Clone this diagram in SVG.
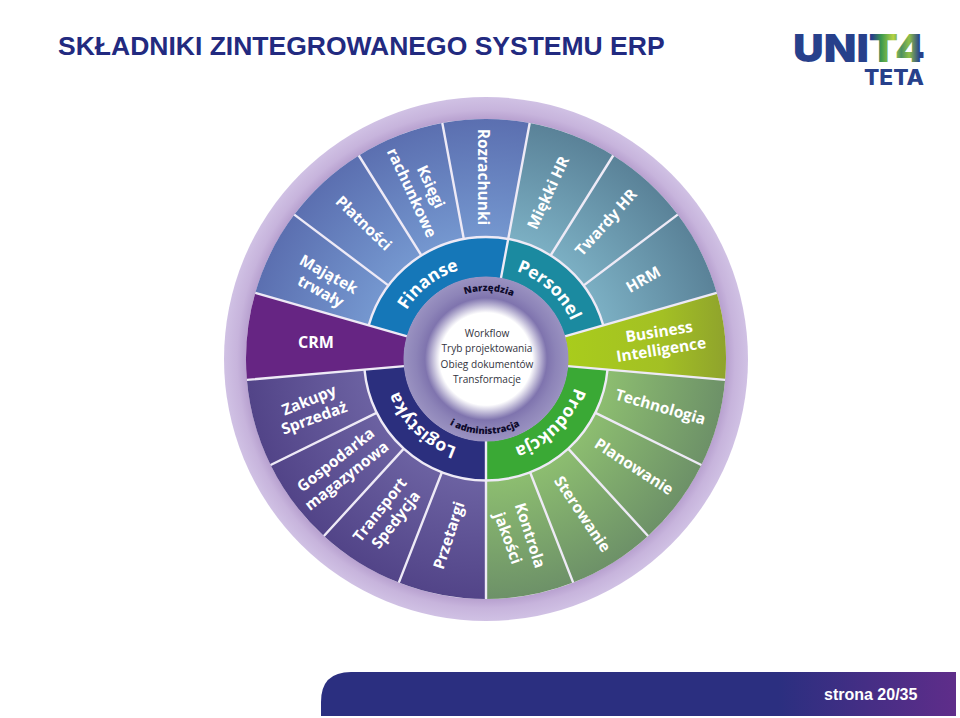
<svg xmlns="http://www.w3.org/2000/svg" width="960" height="718" viewBox="0 0 960 718">
<style>
.spoke{stroke:#eeeaf6;stroke-width:2.4;fill:none;stroke-linecap:butt}
.lb{font-family:"Open Sans","Noto Sans",sans-serif;font-weight:700;fill:#fff;text-anchor:middle;font-size:15.5px}
.rg{font-family:"Open Sans","Noto Sans",sans-serif;font-weight:700;fill:#fff;text-anchor:middle;font-size:17.5px}
.tl{font-family:"Open Sans","Noto Sans",sans-serif;font-weight:800;fill:#0e0b2c;text-anchor:middle;font-size:9.5px}
.ct{font-family:"Open Sans","Noto Sans",sans-serif;fill:#333340;text-anchor:middle;font-size:10.1px}
</style>
<defs>
<radialGradient id="gOuter" gradientUnits="userSpaceOnUse" cx="486" cy="359" r="262"><stop offset=".91" stop-color="#b59dcd"/><stop offset=".95" stop-color="#c7b4dc"/><stop offset="1" stop-color="#d0c1e4"/></radialGradient>
<radialGradient id="gBlue" gradientUnits="userSpaceOnUse" cx="486" cy="359" r="240"><stop offset=".5" stop-color="#7598d0"/><stop offset="1" stop-color="#5b6fb0"/></radialGradient>
<radialGradient id="gTeal" gradientUnits="userSpaceOnUse" cx="486" cy="359" r="240"><stop offset=".5" stop-color="#7cb0c4"/><stop offset="1" stop-color="#5a8298"/></radialGradient>
<radialGradient id="gGreen" gradientUnits="userSpaceOnUse" cx="486" cy="359" r="240"><stop offset=".5" stop-color="#8dbe70"/><stop offset="1" stop-color="#6d9168"/></radialGradient>
<radialGradient id="gViolet" gradientUnits="userSpaceOnUse" cx="486" cy="359" r="240"><stop offset=".5" stop-color="#6c62a2"/><stop offset="1" stop-color="#524488"/></radialGradient>
<linearGradient id="gBI" gradientUnits="userSpaceOnUse" x1="566" y1="0" x2="726" y2="0"><stop offset="0" stop-color="#a9cc1c"/><stop offset=".6" stop-color="#a3c024"/><stop offset="1" stop-color="#8fa32c"/></linearGradient>
<radialGradient id="gHub" gradientUnits="userSpaceOnUse" cx="486" cy="359" r="82.5"><stop offset=".56" stop-color="#fff"/><stop offset=".74" stop-color="#7f74ae"/><stop offset=".85" stop-color="#8d84b8"/><stop offset="1" stop-color="#9a92c1"/></radialGradient>
<linearGradient id="gFoot" gradientUnits="userSpaceOnUse" x1="321" y1="0" x2="956" y2="0"><stop offset="0" stop-color="#2b2f80"/><stop offset=".72" stop-color="#2b2f80"/><stop offset="1" stop-color="#5f2d8a"/></linearGradient>
<linearGradient id="gLogo" gradientUnits="userSpaceOnUse" x1="793" y1="0" x2="925" y2="0"><stop offset="0" stop-color="#27408b"/><stop offset=".6" stop-color="#27408b"/><stop offset=".67" stop-color="#3d9a4e"/><stop offset=".76" stop-color="#b5d344"/><stop offset=".82" stop-color="#4c8f62"/><stop offset=".88" stop-color="#8fbf48"/><stop offset=".96" stop-color="#27408b"/></linearGradient>
<path id="aFin" d="M393.6 369.5A93 93 0 0 1 523.1 273.7"/>
<path id="aPer" d="M458 270.3A93 93 0 0 1 576.8 379.1"/>
<path id="aPro" d="M575.8 334.9A93 93 0 0 1 461.9 448.8"/>
<path id="aLog" d="M511.6 448.4A93 93 0 0 1 395.8 336.5"/>
<path id="aNar" d="M428.6 322.5A68 68 0 0 1 546.3 327.6"/>
<path id="aAdm" d="M420.4 395.4A75 75 0 0 0 550.3 397.6"/>
</defs>

<rect width="960" height="718" fill="#fff"/>

<g id="title"><text x="58" y="55" font-family="'Liberation Sans',Arial,sans-serif" font-weight="700" font-size="26.5" fill="#222a80">SKŁADNIKI ZINTEGROWANEGO SYSTEMU ERP</text></g>

<g id="logo">
<text x="793" y="62" font-family="Inter,'Liberation Sans',sans-serif" font-weight="900" font-size="39" fill="url(#gLogo)" textLength="132" lengthAdjust="spacingAndGlyphs">UNIT4</text>
<text x="864" y="85" font-family="Inter,'Liberation Sans',sans-serif" font-weight="800" font-size="21" fill="#27408b" textLength="60" lengthAdjust="spacingAndGlyphs">TETA</text>
</g>

<g id="ring"><circle cx="486" cy="359" r="262" fill="url(#gOuter)"/><circle cx="486" cy="359" r="240" fill="#fff"/></g>

<g id="n-majatek"><path d="M255.3 292.8A240 240 0 0 1 294.3 214.6L388.6 285.6A122 122 0 0 0 368.7 325.4Z" fill="url(#gBlue)"/><text class="lb" transform="translate(326 279) rotate(29)">Majątek</text><text class="lb" transform="translate(318 296) rotate(29)">trwały</text></g>
<g id="n-platnosci"><path d="M294.3 214.6A240 240 0 0 1 358.8 155.5L421.4 255.5A122 122 0 0 0 388.6 285.6Z" fill="url(#gBlue)"/><text class="lb" transform="translate(360 227) rotate(44)">Płatności</text></g>
<g id="n-ksiegi"><path d="M358.8 155.5A240 240 0 0 1 442.3 123L463.8 239A122 122 0 0 0 421.4 255.5Z" fill="url(#gBlue)"/><text class="lb" transform="translate(426 189) rotate(65)">Księgi</text><text class="lb" transform="translate(407 195) rotate(65)">rachunkowe</text></g>
<g id="n-rozrachunki"><path d="M442.3 123A240 240 0 0 1 529.7 123L508.2 239A122 122 0 0 0 463.8 239Z" fill="url(#gBlue)"/><text class="lb" transform="translate(478 177) rotate(90)">Rozrachunki</text></g>
<g id="n-miekki"><path d="M529.7 123A240 240 0 0 1 613.2 155.5L550.6 255.5A122 122 0 0 0 508.2 239Z" fill="url(#gTeal)"/><text class="lb" transform="translate(553 195) rotate(-65)">Miękki HR</text></g>
<g id="n-twardy"><path d="M613.2 155.5A240 240 0 0 1 677.7 214.6L583.4 285.6A122 122 0 0 0 550.6 255.5Z" fill="url(#gTeal)"/><text class="lb" transform="translate(610 226) rotate(-48)">Twardy HR</text></g>
<g id="n-hrm"><path d="M677.7 214.6A240 240 0 0 1 716.7 292.8L603.3 325.4A122 122 0 0 0 583.4 285.6Z" fill="url(#gTeal)"/><text class="lb" transform="translate(646 284) rotate(-30)">HRM</text></g>
<g id="n-bi"><path d="M716.7 292.8A240 240 0 0 1 725.1 379.9L567.7 366.1A82 82 0 0 0 564.8 336.4Z" fill="url(#gBI)"/><text class="lb" transform="translate(660 337) rotate(-9)">Business</text><text class="lb" transform="translate(662 355) rotate(-9)">Intelligence</text></g>
<g id="n-technologia"><path d="M725.1 379.9A240 240 0 0 1 701.4 465L595.5 412.9A122 122 0 0 0 607.5 369.6Z" fill="url(#gGreen)"/><text class="lb" transform="translate(659 412) rotate(16)">Technologia</text></g>
<g id="n-planowanie"><path d="M701.4 465A240 240 0 0 1 648.1 536L568.4 448.9A122 122 0 0 0 595.5 412.9Z" fill="url(#gGreen)"/><text class="lb" transform="translate(631 471) rotate(33)">Planowanie</text></g>
<g id="n-sterowanie"><path d="M648.1 536A240 240 0 0 1 573.2 582.6L530.3 472.7A122 122 0 0 0 568.4 448.9Z" fill="url(#gGreen)"/><text class="lb" transform="translate(578 517) rotate(56)">Sterowanie</text></g>
<g id="n-kontrola"><path d="M573.2 582.6A240 240 0 0 1 486 599L486 481A122 122 0 0 0 530.3 472.7Z" fill="url(#gGreen)"/><text class="lb" transform="translate(525 537) rotate(72)">Kontrola</text><text class="lb" transform="translate(503 540) rotate(70)">jakości</text></g>
<g id="n-przetargi"><path d="M486 599A240 240 0 0 1 398.8 582.6L441.7 472.7A122 122 0 0 0 486 481Z" fill="url(#gViolet)"/><text class="lb" transform="translate(454 537) rotate(-72)">Przetargi</text></g>
<g id="n-transport"><path d="M398.8 582.6A240 240 0 0 1 323.9 536L403.6 448.9A122 122 0 0 0 441.7 472.7Z" fill="url(#gViolet)"/><text class="lb" transform="translate(384 513) rotate(-52)">Transport</text><text class="lb" transform="translate(400 523) rotate(-52)">Spedycja</text></g>
<g id="n-gospodarka"><path d="M323.9 536A240 240 0 0 1 270.6 465L376.5 412.9A122 122 0 0 0 403.6 448.9Z" fill="url(#gViolet)"/><text class="lb" transform="translate(339 464) rotate(-38)">Gospodarka</text><text class="lb" transform="translate(350 480) rotate(-38)">magazynowa</text></g>
<g id="n-zakupy"><path d="M270.6 465A240 240 0 0 1 246.9 379.9L364.5 369.6A122 122 0 0 0 376.5 412.9Z" fill="url(#gViolet)"/><text class="lb" transform="translate(311 405) rotate(-22)">Zakupy</text><text class="lb" transform="translate(316 423) rotate(-20)">Sprzedaż</text></g>
<g id="n-crm"><path d="M246.9 379.9A240 240 0 0 1 255.3 292.8L407.2 336.4A82 82 0 0 0 404.3 366.1Z" fill="#662583"/><text class="lb" x="316" y="348" style="font-size:16px">CRM</text></g>

<g id="n-finanse"><path d="M368.7 325.4A122 122 0 0 1 508.2 239L500.9 278.4A82 82 0 0 0 407.2 336.4Z" fill="#1577b8"/><text class="rg"><textPath href="#aFin" startOffset="49%">Finanse</textPath></text></g>
<g id="n-personel"><path d="M508.2 239A122 122 0 0 1 603.3 325.4L564.8 336.4A82 82 0 0 0 500.9 278.4Z" fill="#1b8aa0"/><text class="rg"><textPath href="#aPer" startOffset="50%">Personel</textPath></text></g>
<g id="n-produkcja"><path d="M607.5 369.6A122 122 0 0 1 486 481L486 441A82 82 0 0 0 567.7 366.1Z" fill="#3aa935"/><text class="rg"><textPath href="#aPro" startOffset="50%">Produkcja</textPath></text></g>
<g id="n-logistyka"><path d="M486 481A122 122 0 0 1 364.5 369.6L404.3 366.1A82 82 0 0 0 486 441Z" fill="#2b2f7e"/><text class="rg"><textPath href="#aLog" startOffset="50%">Logistyka</textPath></text></g>

<g id="connectors">
<path class="spoke" d="M255.3 292.8L407.2 336.4M294.3 214.6L388.6 285.6M358.8 155.5L421.4 255.5M442.3 123L463.8 239M529.7 123L500.9 278.4M613.2 155.5L550.6 255.5M677.7 214.6L583.4 285.6M716.7 292.8L564.8 336.4M725.1 379.9L567.7 366.1M701.4 465L595.5 412.9M648.1 536L568.4 448.9M573.2 582.6L530.3 472.7M486 599L486 441M398.8 582.6L441.7 472.7M323.9 536L403.6 448.9M270.6 465L376.5 412.9M246.9 379.9L404.3 366.1"/>
<path class="spoke" d="M368.7 325.4A122 122 0 0 1 603.3 325.4M607.5 369.6A122 122 0 0 1 364.5 369.6"/>
</g>

<g id="hub"><circle cx="486" cy="359" r="82.5" fill="url(#gHub)"/>
<text class="tl"><textPath href="#aNar" startOffset="50%">Narzędzia</textPath></text>
<text class="tl"><textPath href="#aAdm" startOffset="50%">i administracja</textPath></text>
<text class="ct" x="487" y="337">Workflow</text><text class="ct" x="487" y="352">Tryb projektowania</text><text class="ct" x="487" y="368">Obieg dokumentów</text><text class="ct" x="487" y="383">Transformacje</text></g>

<g id="footer"><path d="M321 716V702Q321 672 351 672H956V716Z" fill="url(#gFoot)"/><text x="824" y="700" font-family="'Liberation Sans',Arial,sans-serif" font-weight="700" font-size="16" fill="#fff">strona 20/35</text></g>
</svg>
